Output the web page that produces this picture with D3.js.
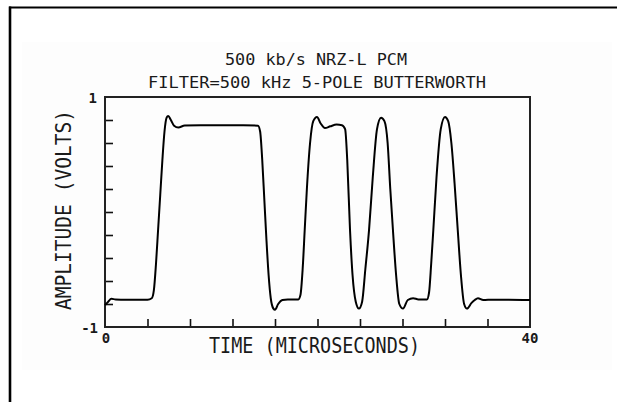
<!DOCTYPE html>
<html>
<head>
<meta charset="utf-8">
<script src="https://cdn.jsdelivr.net/npm/d3@7"></script>
<style>
  html, body { margin: 0; padding: 0; background: #ffffff; }
  svg { display: block; }
  text { font-family: "DejaVu Sans Mono", "Liberation Mono", monospace; fill: #1a1a1a; }
</style>
</head>
<body>
<svg id="chart" width="617" height="402"></svg>
<script>
// ---- data ----
const titleLines = ["500 kb/s NRZ-L PCM", "FILTER=500 kHz 5-POLE BUTTERWORTH"];
const xLabel = "TIME (MICROSECONDS)";
const yLabel = "AMPLITUDE (VOLTS)";
const xDomain = [0, 40];
const yDomain = [-1, 1];
const xTicks = [0, 4, 8, 12, 16, 20, 24, 28, 32, 36, 40];
const yTicks = [-1, -0.8, -0.6, -0.4, -0.2, 0, 0.2, 0.4, 0.6, 0.8, 1];
const xTickLabels = ["0", "40"];
const yTickLabels = ["-1", "1"];
// time (microseconds)
const timeUs = [
  0.0, 0.3, 0.6, 1.0, 2.0, 3.0, 4.0, 4.4, 4.6, 4.8, 5.0, 5.2, 5.4, 5.6, 5.8, 5.95, 6.2, 6.5, 6.9, 7.5, 9.0, 11.0, 13.0, 14.4,
  14.6, 14.8, 15.0, 15.2, 15.4, 15.6, 15.85, 16.0, 16.3, 16.7, 17.2, 18.2, 18.4, 18.6, 18.8, 19.0, 19.3, 19.6, 19.95,
  20.3, 20.7, 21.2, 21.8, 22.3, 22.6, 22.8, 23.06, 23.3, 23.6, 23.9, 24.2, 24.5, 24.85, 25.2, 25.6, 25.98, 26.3, 26.6,
  26.85, 27.1, 27.4, 27.7, 28.05, 28.5, 29.0, 29.5, 30.3, 30.5, 30.7, 30.9, 31.2, 31.6, 32.0, 32.3, 32.6, 32.9, 33.2,
  33.5, 33.8, 34.07, 34.5, 34.8, 35.1, 35.6, 36.5, 38.0, 40.0
];
// amplitude (volts)
const amplitudeV = [
  -0.81, -0.78, -0.755, -0.76, -0.762, -0.762, -0.762, -0.75, -0.68, -0.45, -0.15, 0.15, 0.45, 0.70, 0.82, 0.835, 0.80, 0.75, 0.735, 0.752, 0.755, 0.755, 0.755, 0.75,
  0.70, 0.45, 0.10, -0.25, -0.55, -0.75, -0.84, -0.85, -0.80, -0.765, -0.76, -0.76, -0.72, -0.50, -0.15, 0.20, 0.60, 0.79, 0.826,
  0.77, 0.73, 0.745, 0.76, 0.755, 0.72, 0.45, -0.157, -0.55, -0.78, -0.84, -0.78, -0.50, -0.157, 0.30, 0.72, 0.82, 0.79, 0.60,
  0.20, -0.157, -0.55, -0.80, -0.84, -0.765, -0.75, -0.76, -0.76, -0.70, -0.45, -0.157, 0.30, 0.72, 0.826, 0.79, 0.60, 0.25, -0.157,
  -0.55, -0.80, -0.84, -0.79, -0.765, -0.75, -0.765, -0.762, -0.762, -0.765
];

// ---- drawing ----
const svg = d3.select("#chart");
const x = d3.scaleLinear().domain(xDomain).range([105, 530]);
const y = d3.scaleLinear().domain(yDomain).range([327, 97]);

// very faint scanned-page background
svg.append("rect").attr("x", 22).attr("y", 42).attr("width", 590).attr("height", 328).attr("fill", "#fdfdfd");

// outer frame (top and left lines)
svg.append("line").attr("x1", 9).attr("x2", 617).attr("y1", 7.5).attr("y2", 7.5)
  .attr("stroke", "#000").attr("stroke-width", 2.2);
svg.append("line").attr("x1", 10).attr("x2", 10).attr("y1", 6.5).attr("y2", 402)
  .attr("stroke", "#000").attr("stroke-width", 2.6);

// titles
svg.append("text").attr("x", 316).attr("y", 65).attr("text-anchor", "middle")
  .attr("font-size", 16.5).attr("textLength", 182).attr("lengthAdjust", "spacingAndGlyphs")
  .text(titleLines[0]);
svg.append("text").attr("x", 317).attr("y", 88).attr("text-anchor", "middle")
  .attr("font-size", 16.5).attr("textLength", 338).attr("lengthAdjust", "spacingAndGlyphs")
  .text(titleLines[1]);

// axes ticks (inward)
const gx = svg.append("g").attr("transform", `translate(0,${y(-1)})`)
  .call(d3.axisBottom(x).tickValues(xTicks.slice(1, -1)).tickSize(-8).tickFormat(""));
gx.select(".domain").remove();
gx.selectAll(".tick line").attr("stroke", "#111").attr("stroke-width", 1.6);

const gy = svg.append("g").attr("transform", `translate(${x(0)},0)`)
  .call(d3.axisLeft(y).tickValues(yTicks.slice(1, -1)).tickSize(-8).tickFormat(""));
gy.select(".domain").remove();
gy.selectAll(".tick line").attr("stroke", "#111").attr("stroke-width", 1.6);

// plot box
svg.append("rect").attr("x", x(0)).attr("y", y(1))
  .attr("width", x(40) - x(0)).attr("height", y(-1) - y(1))
  .attr("fill", "none").attr("stroke", "#222").attr("stroke-width", 2);

// tick labels
svg.append("text").attr("x", x(0) - 8).attr("y", y(1) + 6).attr("text-anchor", "end")
  .attr("font-size", 14).attr("font-weight", "bold").text(yTickLabels[1]);
svg.append("text").attr("x", x(0) - 7).attr("y", y(-1) + 6).attr("text-anchor", "end")
  .attr("font-size", 14).attr("font-weight", "bold").text(yTickLabels[0]);
svg.append("text").attr("x", x(0) + 1).attr("y", y(-1) + 16).attr("text-anchor", "middle")
  .attr("font-size", 14).attr("font-weight", "bold").text(xTickLabels[0]);
svg.append("text").attr("x", x(40)).attr("y", y(-1) + 16).attr("text-anchor", "middle")
  .attr("font-size", 14).attr("font-weight", "bold").text(xTickLabels[1]);

// axis labels
svg.append("text").attr("x", 314.5).attr("y", 353).attr("text-anchor", "middle")
  .attr("font-size", 21).attr("textLength", 211).attr("lengthAdjust", "spacingAndGlyphs")
  .text(xLabel);
svg.append("text").attr("transform", `translate(71,210) rotate(-90)`).attr("text-anchor", "middle")
  .attr("font-size", 21).attr("textLength", 200).attr("lengthAdjust", "spacingAndGlyphs")
  .text(yLabel);

// waveform
const pts = timeUs.map((t, i) => [t, amplitudeV[i]]);
const line = d3.line().x(d => x(d[0])).y(d => y(d[1])).curve(d3.curveMonotoneX);
svg.append("path").datum(pts).attr("d", line)
  .attr("fill", "none").attr("stroke", "#000").attr("stroke-width", 2).attr("stroke-linejoin", "round");
</script>
</body>
</html>
